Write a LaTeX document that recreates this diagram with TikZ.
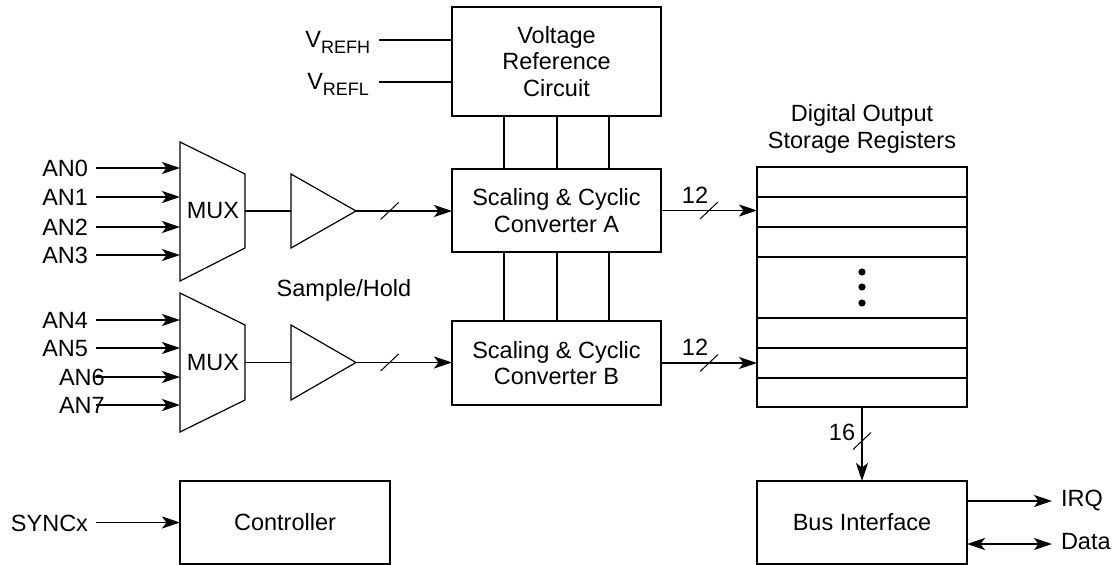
\documentclass[tikz,border=0pt]{standalone}
\usepackage{fontspec}
\setmainfont{Liberation Sans}
\usetikzlibrary{arrows.meta,calc}
\newcommand\vsubs[1]{V\raisebox{-6pt}{\fontsize{18}{18}\selectfont #1}}
\begin{document}
\begin{tikzpicture}[x=1pt,y=-1pt,
  every node/.style={font=\fontsize{23.5}{26.5}\selectfont, inner sep=0pt, outer sep=0pt},
  box/.style={draw, line width=2pt, minimum width=209pt, align=center},
  wire/.style={line width=1.9pt},
  thinline/.style={line width=1.2pt},
  slashline/.style={line width=1pt},
  tip/.style={-{Stealth[length=18pt,width=12pt,inset=4.5pt]}},
  arr/.style={wire, tip},
  darr/.style={wire, {Stealth[length=18pt,width=12pt,inset=4.5pt]}-{Stealth[length=18pt,width=12pt,inset=4.5pt]}},
]
\useasboundingbox (0,0) rectangle (1114,565);

% ---------- boxes ----------
\node[box, minimum height=109pt] (vref) at (556.5,61.5) {Voltage\\Reference\\Circuit};
\node[box, minimum height=83pt] (convA) at (556.5,210.5) {Scaling \& Cyclic\\Converter A};
\node[box, minimum height=84pt] (convB) at (556.5,363) {Scaling \& Cyclic\\Converter B};
\node[box, minimum width=210pt, minimum height=240pt] (regs) at (862,287) {};
\node[box, minimum width=210pt, minimum height=83pt] (bus) at (862,522.5) {Bus Interface};
\node[box, minimum width=210pt, minimum height=83pt] (ctrl) at (285,522.5) {Controller};

% register rows
\foreach \yy in {197,227,257,318,348,378}
  \draw[line width=2pt] (regs.west |- 0,\yy) -- (regs.east |- 0,\yy);
\foreach \yy in {272,287,303}
  \fill (862,\yy) circle (3.6pt);
\node[align=center, anchor=base] (regtitle) at (862,148) {Digital Output\\Storage Registers};

% ---------- voltage reference links ----------
\foreach \dx in {-52.5,0.5,52.5}{
  \draw[wire] ([xshift=\dx pt]vref.south) -- ([xshift=\dx pt]convA.north);
  \draw[wire] ([xshift=\dx pt]convA.south) -- ([xshift=\dx pt]convB.north);
}
\node[anchor=base east] (vrefh) at (370,47.5) {\vsubs{REFH}};
\node[anchor=base east] (vrefl) at (369,89) {\vsubs{REFL}};
\coordinate (vhs) at (379,40);
\coordinate (vls) at (379,82);
\draw[wire] (vhs) -- (vhs -| vref.west);
\draw[wire] (vls) -- (vls -| vref.west);

% ---------- MUX 1 ----------
\coordinate (m1a) at (180,142);
\coordinate (m1b) at (245,174);
\coordinate (m1c) at (245,248);
\coordinate (m1d) at (180,281);
\draw[thinline] (m1a) -- (m1b) -- (m1c) -- (m1d) -- cycle;
\node (mux1) at (213,211) {MUX};
\coordinate (mux1out) at (245,211);
% amplifier 1
\coordinate (amp1in) at (291,211);
\coordinate (amp1out) at (356,211);
\draw[thinline] (291,174) -- (amp1out) -- (291,248) -- cycle;
\draw[wire] (mux1out) -- (amp1in);

% ---------- MUX 2 ----------
\coordinate (m2a) at (180,293);
\coordinate (m2b) at (245,325);
\coordinate (m2c) at (245,400);
\coordinate (m2d) at (180,432);
\draw[thinline] (m2a) -- (m2b) -- (m2c) -- (m2d) -- cycle;
\node (mux2) at (213,362.5) {MUX};
\coordinate (mux2out) at (245,362.5);
% amplifier 2
\coordinate (amp2in) at (291,362.5);
\coordinate (amp2out) at (356,362.5);
\draw[thinline] (291,325) -- (amp2out) -- (291,400) -- cycle;
\draw[wire] (mux2out) -- (amp2in);

\node[anchor=base] (sh) at (344,296) {Sample/Hold};

% ---------- analog inputs ----------
\foreach \n/\yy in {0/168,1/197,2/227,3/255,4/320,5/348}{
  \node[anchor=base east] (an\n) at (88,\yy+8.5) {AN\n};
  \coordinate (an\n s) at (96,\yy);
  \coordinate (an\n e) at (180,\yy);
  \draw[arr] (an\n s) -- (an\n e);
}
\foreach \n/\yy in {6/377,7/405}{
  \node[anchor=base west] (an\n) at (59,\yy+8.5) {AN\n};
  \coordinate (an\n s) at (96,\yy);
  \coordinate (an\n e) at (180,\yy);
  \draw[arr] (an\n s) -- (an\n e);
}

% ---------- sample/hold to converters ----------
\draw[arr] (amp1out) -- (amp1out -| convA.west);
\draw[slashline] ($(amp1out)!0.35!(amp1out -| convA.west)$) +(-9,8.5) -- +(9,-8.5);
\draw[arr] (amp2out) -- (amp2out -| convB.west);
\draw[slashline] ($(amp2out)!0.35!(amp2out -| convB.west)$) +(-9,8.5) -- +(9,-8.5);

% ---------- converters to registers ----------
\draw[arr] (convA.east) -- (convA.east -| regs.west);
\draw[slashline] ($(convA.east)!0.5!(convA.east -| regs.west)$) +(-9,8.5) -- +(9,-8.5);
\node (twelveA) at (695,195) {12};
\draw[arr] (convB.east) -- (convB.east -| regs.west);
\draw[slashline] ($(convB.east)!0.5!(convB.east -| regs.west)$) +(-9,8.5) -- +(9,-8.5);
\node (twelveB) at (695,347) {12};

% ---------- registers to bus ----------
\draw[arr] (regs.south) -- (bus.north);
\draw[slashline] (862,441) +(-9,8.5) -- +(9,-8.5);
\node (sixteen) at (842,432) {16};

% ---------- bus outputs ----------
\coordinate (irqe) at (1052,501);
\coordinate (datae) at (1052,544);
\draw[arr] (irqe -| bus.east) -- (irqe);
\draw[darr] (datae -| bus.east) -- (datae);
\node[anchor=base west] (irq) at (1061,506.5) {IRQ};
\node[anchor=base west] (data) at (1061,549) {Data};

% ---------- controller ----------
\node[anchor=base east] (sync) at (88,531) {SYNCx};
\coordinate (syncs) at (96,522.5);
\draw[arr] (syncs) -- (ctrl.west);
\end{tikzpicture}
\end{document}
